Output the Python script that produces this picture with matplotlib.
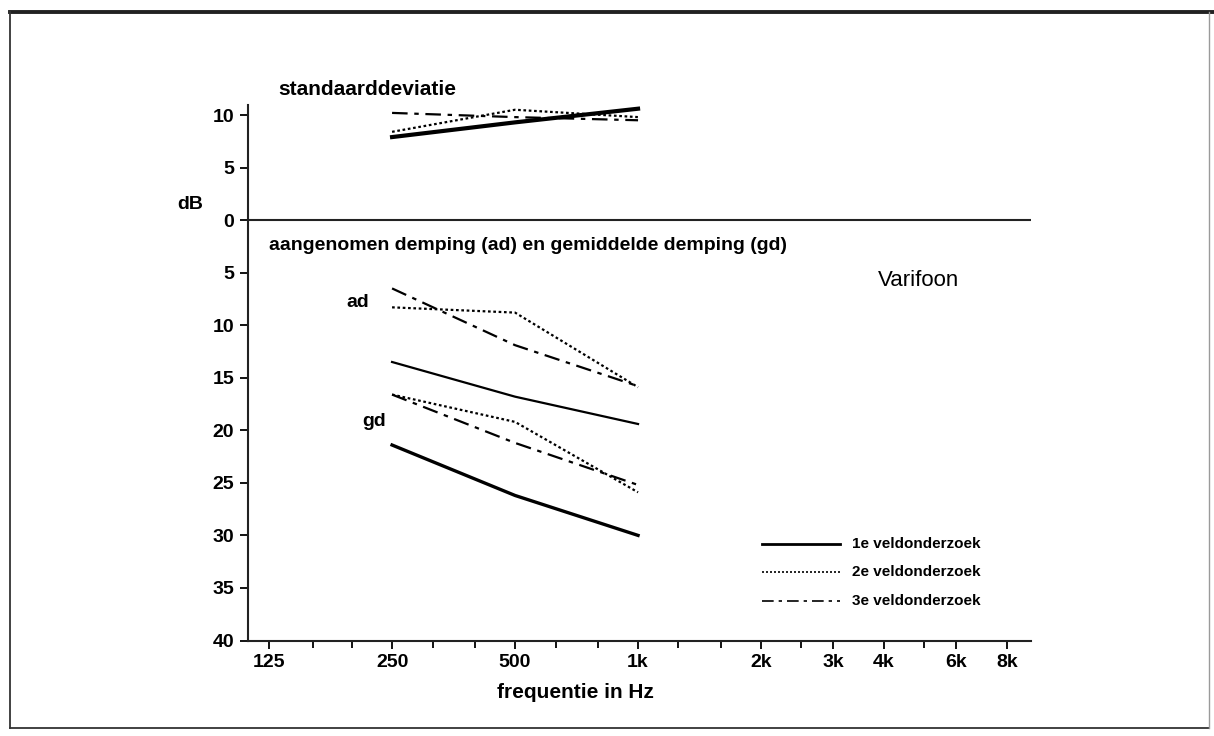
import numpy as np
import matplotlib
matplotlib.use('Agg')
import matplotlib.pyplot as plt
from matplotlib.ticker import FixedLocator, FixedFormatter, NullFormatter

plt.rcParams['font.family'] = ['Liberation Sans', 'DejaVu Sans']

# frequencies (Hz)
freqs = [250, 500, 1000]

# standaarddeviatie (dB), per veldonderzoek
sd_1 = [7.9, 9.3, 10.6]
sd_2 = [8.4, 10.5, 9.8]
sd_3 = [10.2, 9.8, 9.5]

# aangenomen demping (ad), dB
ad_1 = [13.5, 16.8, 19.4]
ad_2 = [8.3, 8.8, 15.9]
ad_3 = [6.5, 11.9, 15.8]

# gemiddelde demping (gd), dB
gd_1 = [21.4, 26.2, 30.0]
gd_2 = [16.6, 19.2, 25.9]
gd_3 = [16.6, 21.2, 25.2]

xtick_vals = [125, 250, 500, 1000, 2000, 3000, 4000, 6000, 8000]
xtick_labels = ['125', '250', '500', '1k', '2k', '3k', '4k', '6k', '8k']
xminor_vals = [160, 200, 315, 400, 630, 800, 1250, 1600, 2500, 5000]
ytick_vals = [10, 5, 0, -5, -10, -15, -20, -25, -30, -35, -40]
ytick_labels = ['10', '5', '0', '5', '10', '15', '20', '25', '30', '35', '40']

legend_names = ['1e veldonderzoek', '2e veldonderzoek', '3e veldonderzoek']
legend_y = [-30.8, -33.5, -36.2]

dashdot = (0, (7, 3, 2, 3))
styles = [dict(ls='-'), dict(ls=(0, (1.2, 1.2))), dict(ls=dashdot)]

fig = plt.figure(figsize=(12.14, 7.36), dpi=100)
ax = fig.add_axes([248/1214, (736-640.5)/736, 783/1214, 536/736])

ax.set_xscale('log')
ax.set_xlim(111, 9158)
ax.set_ylim(-40, 11)

def neg(v):
    return [-x for x in v]

# standaarddeviatie
ax.plot(freqs, sd_1, color='black', lw=3.0, **styles[0])
ax.plot(freqs, sd_2, color='black', lw=1.6, **styles[1])
ax.plot(freqs, sd_3, color='black', lw=1.6, **styles[2])

# ad
ax.plot(freqs, neg(ad_1), color='black', lw=1.6, **styles[0])
ax.plot(freqs, neg(ad_2), color='black', lw=1.6, **styles[1])
ax.plot(freqs, neg(ad_3), color='black', lw=1.6, **styles[2])

# gd
ax.plot(freqs, neg(gd_1), color='black', lw=2.4, **styles[0])
ax.plot(freqs, neg(gd_2), color='black', lw=1.6, **styles[1])
ax.plot(freqs, neg(gd_3), color='black', lw=1.6, **styles[2])

ax.axhline(0, color='#222222', lw=1.5)

for s in ['top', 'right']:
    ax.spines[s].set_visible(False)
for s in ['left', 'bottom']:
    ax.spines[s].set_linewidth(1.5)
    ax.spines[s].set_color('#222222')

ax.xaxis.set_major_locator(FixedLocator(xtick_vals))
ax.xaxis.set_major_formatter(FixedFormatter(xtick_labels))
ax.xaxis.set_minor_locator(FixedLocator(xminor_vals))
ax.xaxis.set_minor_formatter(NullFormatter())
ax.set_yticks(ytick_vals)
ax.set_yticklabels(ytick_labels)
ax.tick_params(axis='both', which='major', length=6, width=1.3, labelsize=14, pad=4)
ax.tick_params(axis='x', which='minor', length=5, width=1.3)
for lab in ax.get_xticklabels() + ax.get_yticklabels():
    lab.set_fontweight('bold')

# x label, a bit left of the axis centre as in the original
ax.text(575/1214, 1-693/736, 'frequentie in Hz', fontsize=15, fontweight='bold',
        ha='center', va='center', transform=fig.transFigure)

# texts
ax.text(132, 12.4, 'standaarddeviatie', fontsize=15, fontweight='bold', va='center', clip_on=False)
ax.text(80, 1.5, 'dB', fontsize=14, fontweight='bold', va='center', ha='center', clip_on=False)
ax.text(125, -2.4, 'aangenomen demping (ad) en gemiddelde demping (gd)', fontsize=14,
        fontweight='bold', va='center')
ax.text(206, -7.8, 'ad', fontsize=14, fontweight='bold', va='center', ha='center')
ax.text(226, -19.2, 'gd', fontsize=14, fontweight='bold', va='center', ha='center')
ax.text(4850, -5.7, 'Varifoon', fontsize=16, va='center', ha='center')

# legend drawn by hand
for name, y, st, lw in zip(legend_names, legend_y, styles, [2.0, 1.2, 1.2]):
    ax.plot([2010, 3120], [y, y], color='black', lw=lw, **st)
    ax.text(3340, y, name, fontsize=11, fontweight='bold', va='center')

# frame round the figure (scanned page border)
fl = fig.transFigure
fig.add_artist(plt.Line2D([10/1214, 1.0], [1-12/736, 1-12/736], transform=fl, color='#222222', lw=2.8))
fig.add_artist(plt.Line2D([10/1214, 10/1214], [1-12/736, 1-728/736], transform=fl, color='#333333', lw=1.3))
fig.add_artist(plt.Line2D([10/1214, 1209/1214], [1-728/736, 1-728/736], transform=fl, color='#333333', lw=1.3))
fig.add_artist(plt.Line2D([1209/1214, 1209/1214], [1-12/736, 1-728/736], transform=fl, color='#9a9a9a', lw=1.0))

fig.savefig('out.png', dpi=100)
